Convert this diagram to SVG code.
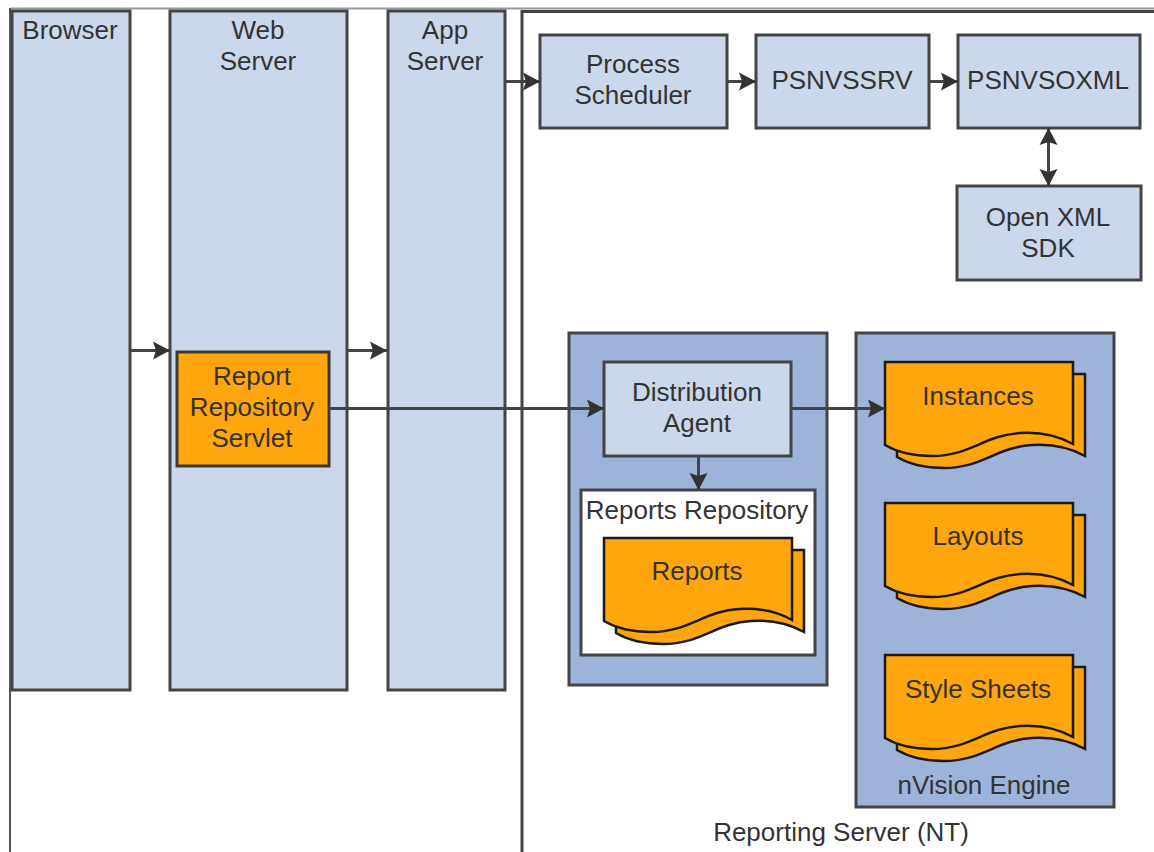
<svg xmlns="http://www.w3.org/2000/svg" width="1154" height="852" viewBox="0 0 1154 852">
<style>
text{font-family:"Liberation Sans",Arial,sans-serif;font-size:26px;fill:#333;text-anchor:middle}
.b{fill:#cbd8eb;stroke:#444;stroke-width:3}
.o{fill:#ffa50d;stroke:#3a3a32;stroke-width:3}
.d{fill:#9eb3da;stroke:#444;stroke-width:3}
.w{fill:#fff;stroke:#444;stroke-width:3}
.l{fill:none;stroke:#444;stroke-width:3}
.doc{fill:#ffa50d;stroke:#1a1a1a;stroke-width:2.500;stroke-linejoin:miter}
</style>
<defs>
<marker id="a" markerUnits="userSpaceOnUse" markerWidth="18" markerHeight="20" refX="17" refY="10" orient="auto"><path d="M0 1L17 10L0 19L3 10Z" fill="#333"/></marker>
<marker id="s" markerUnits="userSpaceOnUse" markerWidth="18" markerHeight="20" refX="17" refY="10" orient="auto-start-reverse"><path d="M0 1L17 10L0 19L3 10Z" fill="#333"/></marker>
<g id="docshape">
<path class="doc" d="M12 12H200V94C182 84 162 82 147 83C112 85 97 106 59 106C40 106 24 102 12 95V88H12Z"/>
<path class="doc" d="M0 0H188V82C170 72 150 70 135 71C100 73 85 94 47 94C28 94 12 90 0 83Z"/>
</g>
</defs>
<g id="frame">
<path d="M10 8.500H1154" fill="none" stroke="#999" stroke-width="2"/>
<path d="M10 8V852" fill="none" stroke="#555" stroke-width="2"/>
</g>
<g id="reporting-server">
<path class="l" d="M522 852V11.500H1154"/>
<text x="841" y="841">Reporting Server (NT)</text>
</g>
<g id="browser"><rect class="b" x="12" y="11" width="118" height="679"/><text x="70" y="39">Browser</text></g>
<g id="web-server"><rect class="b" x="170" y="11" width="177" height="679"/><text x="258" y="39">Web</text><text x="258" y="70">Server</text></g>
<g id="app-server"><rect class="b" x="388" y="11" width="117" height="679"/><text x="445" y="39">App</text><text x="445" y="70">Server</text></g>
<g id="process-scheduler"><rect class="b" x="540" y="35" width="187" height="93"/><text x="633" y="73">Process</text><text x="633" y="104">Scheduler</text></g>
<g id="psnvssrv"><rect class="b" x="756" y="35" width="173" height="93"/><text x="842" y="89">PSNVSSRV</text></g>
<g id="psnvsoxml"><rect class="b" x="958" y="35" width="182" height="93"/><text x="1048" y="89">PSNVSOXML</text></g>
<g id="open-xml-sdk"><rect class="b" x="957" y="186" width="184" height="94"/><text x="1048" y="226">Open XML</text><text x="1048" y="257">SDK</text></g>
<g id="servlet"><rect class="o" x="177" y="352" width="152" height="114"/><text x="252" y="385">Report</text><text x="252" y="416">Repository</text><text x="252" y="447">Servlet</text></g>
<g id="repository-panel"><rect class="d" x="569" y="333" width="258" height="352"/></g>
<g id="distribution-agent"><rect class="b" x="604" y="362" width="187" height="94"/><text x="697" y="401">Distribution</text><text x="697" y="432">Agent</text></g>
<g id="reports-repository"><rect class="w" x="581" y="490" width="234" height="165"/><text x="697" y="519">Reports Repository</text></g>
<g id="reports"><use href="#docshape" x="604" y="538"/><text x="697" y="580">Reports</text></g>
<g id="nvision-engine"><rect class="d" x="856" y="333" width="258" height="474"/><text x="984" y="794">nVision Engine</text></g>
<g id="instances"><use href="#docshape" x="885" y="362"/><text x="978" y="405">Instances</text></g>
<g id="layouts"><use href="#docshape" x="885" y="503"/><text x="978" y="545">Layouts</text></g>
<g id="style-sheets"><use href="#docshape" x="885" y="655"/><text x="978" y="698">Style Sheets</text></g>
<g id="connectors">
<path class="l" marker-end="url(#a)" d="M130 350.500H170"/>
<path class="l" marker-end="url(#a)" d="M347 350.500H387"/>
<path class="l" marker-end="url(#a)" d="M505 81.500H540"/>
<path class="l" marker-end="url(#a)" d="M727 81.500H756"/>
<path class="l" marker-end="url(#a)" d="M929 81.500H958"/>
<path class="l" marker-start="url(#s)" marker-end="url(#s)" d="M1048.500 128V186"/>
<path class="l" marker-end="url(#a)" d="M329 408.500H604"/>
<path class="l" marker-end="url(#a)" d="M791 408.500H885"/>
<path class="l" marker-end="url(#a)" d="M698.500 456V490"/>
</g>
</svg>
